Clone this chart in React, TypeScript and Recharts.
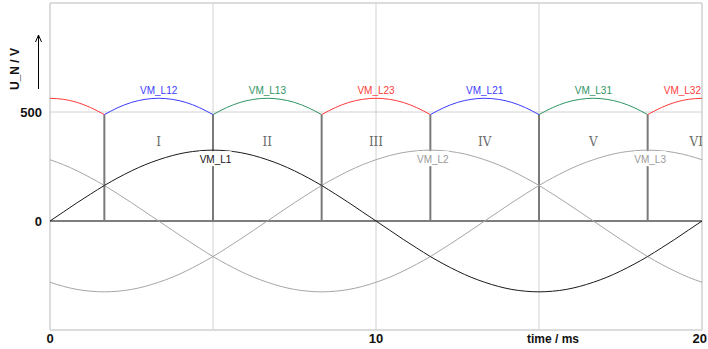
import {
  LineChart,
  Line,
  XAxis,
  YAxis,
  CartesianGrid,
  ReferenceLine,
  ReferenceDot,
  ReferenceArea,
  Label,
} from 'recharts';

// time axis, ms (one mains period at 50 Hz)
const time = [
  0, 0.417, 0.833, 1.25, 1.667, 2.083, 2.5, 2.917, 3.333, 3.75, 4.167, 4.583, 5,
  5.417, 5.833, 6.25, 6.667, 7.083, 7.5, 7.917, 8.333, 8.75, 9.167, 9.583, 10,
  10.417, 10.833, 11.25, 11.667, 12.083, 12.5, 12.917, 13.333, 13.75, 14.167, 14.583, 15,
  15.417, 15.833, 16.25, 16.667, 17.083, 17.5, 17.917, 18.333, 18.75, 19.167, 19.583, 20,
];

// phase voltages, V
const vmL1 = [
  0, 42, 84, 124, 163, 198, 230, 258, 281, 300, 314, 322, 325,
  322, 314, 300, 281, 258, 230, 198, 163, 124, 84, 42, 0,
  -42, -84, -124, -163, -198, -230, -258, -281, -300, -314, -322, -325,
  -322, -314, -300, -281, -258, -230, -198, -163, -124, -84, -42, 0,
];
const vmL2 = [
  -281, -300, -314, -322, -325, -322, -314, -300, -281, -258, -230, -198, -163,
  -124, -84, -42, 0, 42, 84, 124, 163, 198, 230, 258, 281,
  300, 314, 322, 325, 322, 314, 300, 281, 258, 230, 198, 163,
  124, 84, 42, 0, -42, -84, -124, -163, -198, -230, -258, -281,
];
const vmL3 = [
  281, 258, 230, 198, 163, 124, 84, 42, 0, -42, -84, -124, -163,
  -198, -230, -258, -281, -300, -314, -322, -325, -322, -314, -300, -281,
  -258, -230, -198, -163, -124, -84, -42, 0, 42, 84, 124, 163,
  198, 230, 258, 281, 300, 314, 322, 325, 322, 314, 300, 281,
];

// largest line-to-line voltage (bridge output), V
const vmRectified = [
  563, 558, 544, 520, 488, 520, 544, 558, 563, 558, 544, 520, 488,
  520, 544, 558, 563, 558, 544, 520, 488, 520, 544, 558, 563,
  558, 544, 520, 488, 520, 544, 558, 563, 558, 544, 520, 488,
  520, 544, 558, 563, 558, 544, 520, 488, 520, 544, 558, 563,
];

// commutation instants, ms
const commutationTimes = [1.667, 5, 8.333, 11.667, 15, 18.333];
// conducting pair in each stretch between commutations
const segmentNames = ['VM_L32', 'VM_L12', 'VM_L13', 'VM_L23', 'VM_L21', 'VM_L31', 'VM_L32'];

// 60° sectors
const sectorCenters = [3.333, 6.667, 10, 13.333, 16.667, 20];
const sectorPairs = ['VM_L12', 'VM_L13', 'VM_L23', 'VM_L21', 'VM_L31', 'VM_L32'];
const sectorNumerals = ['I', 'II', 'III', 'IV', 'V', 'VI'];

const phaseNames = ['VM_L1', 'VM_L2', 'VM_L3'];

const xGridTicks = [0, 5, 10, 15, 20];
const xLabelTicks = [0, 10, 20];
const yTicks = [0, 500];

const X_MIN = 0;
const X_MAX = 20;
const Y_MIN = -500;
const Y_MAX = 1000;

const W = 708;
const H = 349;
const MARGIN = { top: 3, right: 6, left: 0, bottom: 0 };
const Y_AXIS_W = 50;
const X_AXIS_H = 19;
const PLOT = {
  x: MARGIN.left + Y_AXIS_W,
  y: MARGIN.top,
  w: W - MARGIN.left - Y_AXIS_W - MARGIN.right,
  h: H - MARGIN.top - X_AXIS_H - MARGIN.bottom,
};

const SANS = '"Liberation Sans", Arial, sans-serif';
const SERIF = '"DejaVu Serif", serif';

const PAIR_COLORS: Record<string, string> = {
  VM_L12: '#3b3bff',
  VM_L21: '#3b3bff',
  VM_L13: '#2f9462',
  VM_L31: '#2f9462',
  VM_L23: '#ff3b3b',
  VM_L32: '#ff3b3b',
};
const PHASE_COLORS = ['#1a1a1a', '#a6a6a6', '#a6a6a6'];
const phaseSeries = [vmL1, vmL2, vmL3];

const bounds = [X_MIN, ...commutationTimes, X_MAX];

const rows = time.map((t, k) => {
  const row: Record<string, number | null> = { t, l1: vmL1[k], l2: vmL2[k], l3: vmL3[k] };
  segmentNames.forEach((_, i) => {
    const inside = t >= bounds[i] - 0.001 && t <= bounds[i + 1] + 0.001;
    row[`seg${i}`] = inside ? vmRectified[k] : null;
  });
  return row;
});

const valueAt = (series: number[], t: number) =>
  series[time.findIndex((v) => Math.abs(v - t) < 0.001)];

// peak of each phase curve, used to place its name
const phasePeaks = phaseSeries.map((s) => {
  const k = s.indexOf(Math.max(...s));
  return { t: time[k], v: s[k] };
});

const envelopePeak = Math.max(...vmRectified);
const NUMERAL_LEVEL = 363;

function XTick({ x, y, payload }: any) {
  if (!xLabelTicks.includes(payload.value)) return <g />;
  const last = payload.value === X_MAX;
  return (
    <text
      x={last ? x + 5 : x}
      y={y}
      dy="0.71em"
      textAnchor={last ? 'end' : 'middle'}
      fill="#111"
      fontSize={13}
      fontWeight={700}
      fontFamily={SANS}
    >
      {payload.value}
    </text>
  );
}

function YTick({ x, y, payload }: any) {
  return (
    <text
      x={x}
      y={y}
      dy="0.355em"
      textAnchor="end"
      fill="#111"
      fontSize={13}
      fontWeight={700}
      fontFamily={SANS}
    >
      {payload.value}
    </text>
  );
}

function XTitle() {
  return (
    <text x={553} y={343} textAnchor="middle" fill="#111" fontSize={12} fontWeight={700} fontFamily={SANS}>
      time / ms
    </text>
  );
}

function YTitle() {
  const cx = 15;
  const cy = 69;
  return (
    <g>
      <text
        x={cx}
        y={cy}
        transform={`rotate(-90 ${cx} ${cy})`}
        textAnchor="middle"
        dominantBaseline="central"
        fill="#111"
        fontSize={12}
        fontWeight={700}
        fontFamily={SANS}
      >
        U_N / V
      </text>
      <line x1={38.5} y1={89} x2={38.5} y2={36} stroke="#000" strokeWidth={1} />
      <path d="M35.5,42 L38.5,35 L41.5,42" fill="none" stroke="#000" strokeWidth={1} />
    </g>
  );
}

export default function App() {
  return (
    <div style={{ position: 'absolute', left: 0, top: 0, background: '#fff' }}>
      <LineChart width={W} height={H} data={rows} margin={MARGIN}>
        <CartesianGrid stroke="#d2d2d2" />
        <XAxis
          dataKey="t"
          type="number"
          domain={[X_MIN, X_MAX]}
          ticks={xGridTicks}
          height={X_AXIS_H}
          axisLine={false}
          tickLine={false}
          tickSize={0}
          tickMargin={4}
          tick={<XTick />}
          interval={0}
        >
          <Label content={<XTitle />} />
        </XAxis>
        <YAxis
          type="number"
          domain={[Y_MIN, Y_MAX]}
          ticks={yTicks}
          width={Y_AXIS_W}
          axisLine={false}
          tickLine={false}
          tickSize={0}
          tickMargin={8}
          tick={<YTick />}
          interval={0}
        >
          <Label content={<YTitle />} />
        </YAxis>
        <ReferenceArea
          x1={X_MIN}
          x2={X_MAX}
          y1={Y_MIN}
          y2={Y_MAX}
          fill="none"
          stroke="#cfcfcf"
          strokeWidth={1}
        />
        <ReferenceLine y={0} stroke="#5a5a5a" strokeWidth={1.6} />
        {commutationTimes.map((tc) => (
          <ReferenceLine
            key={`c${tc}`}
            segment={[
              { x: tc, y: 0 },
              { x: tc, y: valueAt(vmRectified, tc) },
            ]}
            stroke="#7a7a7a"
            strokeWidth={2}
          />
        ))}
        <Line dataKey="l2" type="monotone" stroke={PHASE_COLORS[1]} strokeWidth={1} dot={false} activeDot={false} isAnimationActive={false} />
        <Line dataKey="l3" type="monotone" stroke={PHASE_COLORS[2]} strokeWidth={1} dot={false} activeDot={false} isAnimationActive={false} />
        <Line dataKey="l1" type="monotone" stroke={PHASE_COLORS[0]} strokeWidth={1} dot={false} activeDot={false} isAnimationActive={false} />
        {segmentNames.map((name, i) => (
          <Line
            key={`seg${i}`}
            dataKey={`seg${i}`}
            type="monotone"
            stroke={PAIR_COLORS[name]}
            strokeWidth={1}
            dot={false}
            activeDot={false}
            connectNulls={false}
            isAnimationActive={false}
          />
        ))}
        {sectorCenters.map((tc, i) => (
          <ReferenceDot
            key={`pair${i}`}
            x={tc}
            y={envelopePeak}
            r={0}
            shape={(p: any) => {
              const atEdge = tc >= X_MAX;
              return (
                <text
                  x={atEdge ? p.cx - 1 : p.cx}
                  y={p.cy - 4}
                  textAnchor={atEdge ? 'end' : 'middle'}
                  fill={PAIR_COLORS[sectorPairs[i]]}
                  fontSize={10}
                  fontFamily={SANS}
                >
                  {sectorPairs[i]}
                </text>
              );
            }}
          />
        ))}
        {sectorCenters.map((tc, i) => (
          <ReferenceDot
            key={`num${i}`}
            x={tc}
            y={NUMERAL_LEVEL}
            r={0}
            shape={(p: any) => {
              const atEdge = tc >= X_MAX;
              return (
                <g>
                  <clipPath id={`numeral-clip-${i}`}>
                    <rect x={PLOT.x} y={PLOT.y} width={PLOT.w} height={PLOT.h} />
                  </clipPath>
                  <text
                    x={atEdge ? p.cx + 1 : p.cx}
                    y={p.cy}
                    textAnchor={atEdge ? 'end' : 'middle'}
                    dominantBaseline="central"
                    fill="#6a6a6a"
                    fontSize={12}
                    fontFamily={SERIF}
                    clipPath={`url(#numeral-clip-${i})`}
                  >
                    {sectorNumerals[i]}
                  </text>
                </g>
              );
            }}
          />
        ))}
        {phasePeaks.map((pk, i) => (
          <ReferenceDot
            key={`ph${i}`}
            x={pk.t}
            y={pk.v}
            r={0}
            shape={(p: any) => {
              const w = phaseNames[i].length * 6 + 2;
              const cx = p.cx + 2.5;
              return (
                <g>
                  <rect x={cx - w / 2} y={p.cy + 1} width={w} height={15} fill="#fff" />
                  <text
                    x={cx}
                    y={p.cy + 12.5}
                    textAnchor="middle"
                    fill={i === 0 ? '#111' : '#999'}
                    fontSize={10}
                    fontFamily={SANS}
                  >
                    {phaseNames[i]}
                  </text>
                </g>
              );
            }}
          />
        ))}
      </LineChart>
    </div>
  );
}
